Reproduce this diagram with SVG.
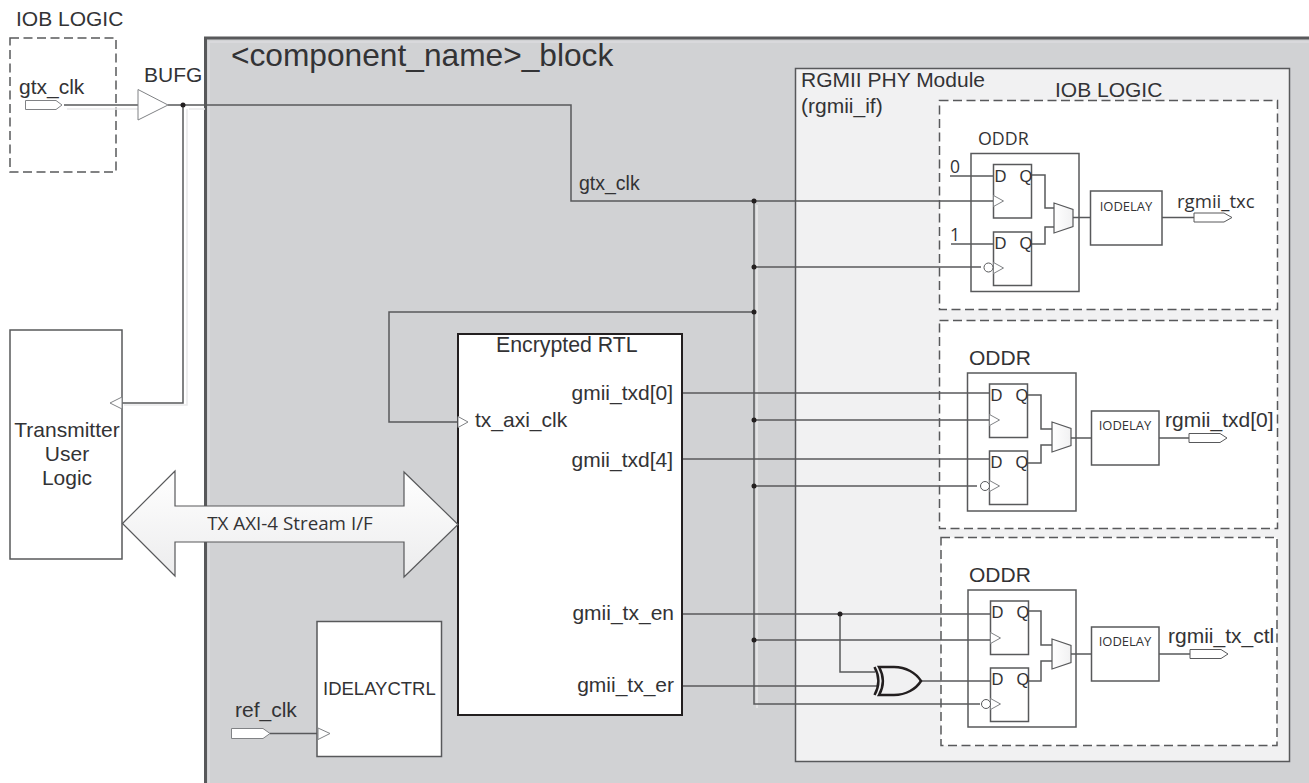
<svg xmlns="http://www.w3.org/2000/svg" width="1309" height="783" viewBox="0 0 1309 783">
<style>
text{font-family:"Liberation Sans",Arial,sans-serif;fill:#333335}
.c{font-family:"Open Sans","Noto Sans",sans-serif}
.w{fill:none;stroke:#58595b;stroke-width:1.5}
.s{fill:none;stroke:#e9e9ea;stroke-width:1.5}
.d{fill:#fff;stroke:#58595b;stroke-width:1.5;stroke-dasharray:9 4.500}
.b{fill:#fff;stroke:#58595b;stroke-width:1.5}
.t{fill:#fff;stroke:#808285;stroke-width:1}
.m{fill:url(#gm);stroke:#58595b;stroke-width:1.2}
.p{fill:#fff;stroke:#58595b;stroke-width:1}
.dot{fill:#231f20}
</style>
<defs>
<linearGradient id="g" x1="0" y1="0" x2="0" y2="1"><stop offset="0" stop-color="#fff"/><stop offset="1" stop-color="#ececed"/></linearGradient>
<linearGradient id="gm" x1="0" y1="0" x2="1" y2="0"><stop offset="0" stop-color="#fff"/><stop offset="1" stop-color="#f1f1f2"/></linearGradient>
<g id="ff">
<rect class="b" x="0" y="0" width="38" height="53.500"/>
<text x="1" y="17" font-size="16.500">D</text><text x="26" y="17" font-size="16.500">Q</text>
</g>
<polygon id="clkT" class="t" points="0,-5.500 10,0 0,5.500"/>
<path id="muxI" class="m" d="M0,0L19,6.500V23.500L0,30Z"/>
</defs>

<g id="block"><rect x="205.500" y="38" width="1110" height="760" fill="#d1d2d4" stroke="#58595b" stroke-width="3"/>
<path class="s" d="M209,790V42H1309" style="stroke:#dcdcde"/>
<text x="231" y="66" font-size="31.700">&lt;component_name&gt;_block</text></g>
<g id="rgmii-phy"><rect x="795.500" y="68.500" width="494" height="693" fill="#f1f1f2" stroke="#58595b" stroke-width="1.500"/>
<text x="801" y="87" font-size="21">RGMII PHY Module</text><text x="801" y="113" font-size="21">(rgmii_if)</text></g>

<g id="iob-top"><rect class="d" x="10" y="38" width="106" height="134" style="fill:none"/><text x="16" y="26" font-size="21">IOB LOGIC</text></g>
<g id="iob1"><rect class="d" x="939.500" y="100.500" width="338" height="209"/><text x="1055" y="97" font-size="21">IOB LOGIC</text></g>
<g id="iob2"><rect class="d" x="939.500" y="320.500" width="338" height="208"/></g>
<g id="iob3"><rect class="d" x="941" y="537.500" width="336" height="208"/></g>

<g id="oddr1"><rect class="b" x="971" y="153.500" width="108" height="138"/><text class="c" x="978" y="145" font-size="17.800">ODDR</text></g>
<g id="oddr2"><rect class="b" x="967.500" y="373" width="108.500" height="138"/><text x="969" y="365" font-size="21">ODDR</text></g>
<g id="oddr3"><rect class="b" x="968" y="590" width="108" height="137"/><text x="969" y="582" font-size="21">ODDR</text></g>

<g id="connectors">
<path class="s" d="M67,109H138M187,109V405H124M189,109H205"/>
<path class="s" d="M757,205V708"/>
<path class="w" d="M64,105H138M168,105H571V201H993"/>
<path class="w" d="M183,105V403H122"/>
<path class="w" d="M754,201V704H980"/>
<path class="w" d="M754,267H981"/>
<path class="w" d="M754,312H389V422H458"/>
<path class="w" d="M682,393H989"/>
<path class="w" d="M754,420H989"/>
<path class="w" d="M682,459H989"/>
<path class="w" d="M754,486H977"/>
<path class="w" d="M682,614H990"/>
<path class="w" d="M754,640H990"/>
<path class="w" d="M840,614V672H875"/>
<path class="w" d="M682,686H877"/>
<path class="w" d="M921,681H990"/>
<path class="w" d="M950,176H993M951,244H993"/>
<path class="w" d="M1031,175H1045V208H1054M1031,244H1045V227H1054"/>
<path class="w" d="M1073,217.500H1091M1162,217.500H1194"/>
<path class="w" d="M1027,395H1041V429H1052M1027,463H1041V445H1052"/>
<path class="w" d="M1070,438H1091M1159,438H1189"/>
<path class="w" d="M1028,611H1041V645H1052M1028,681H1041V661H1052"/>
<path class="w" d="M1070,654H1091M1159,654H1190"/>
<path class="w" d="M270,733.500H317"/>
<circle class="dot" cx="183" cy="105" r="2.500"/>
<circle class="dot" cx="754" cy="201" r="2.500"/>
<circle class="dot" cx="754" cy="267" r="2.500"/>
<circle class="dot" cx="754" cy="312" r="2.500"/>
<circle class="dot" cx="754" cy="420" r="2.500"/>
<circle class="dot" cx="754" cy="486" r="2.500"/>
<circle class="dot" cx="754" cy="640" r="2.500"/>
<circle class="dot" cx="840" cy="614" r="2.500"/>
</g>

<g id="gtx-port"><path class="t" d="M25.500,100.500H56L62,105L56,109.500H25.500Z"/><text x="19" y="94" font-size="21">gtx_clk</text></g>
<g id="bufg"><polygon class="t" points="138,89.500 168,105 138,120"/><text x="144" y="82" font-size="21">BUFG</text></g>
<text x="579" y="190" font-size="19.500">gtx_clk</text>

<g id="transmitter"><rect class="b" x="10" y="330" width="112" height="229"/>
<text x="67" y="437" font-size="21" text-anchor="middle">Transmitter</text>
<text x="67" y="461" font-size="21" text-anchor="middle">User</text>
<text x="67" y="485" font-size="21" text-anchor="middle">Logic</text>
<polygon class="t" points="122,397 110,403 122,409"/></g>

<g id="encrypted-rtl"><rect x="458" y="334" width="224" height="381" fill="#fff" stroke="#231f20" stroke-width="2"/>
<text x="496" y="352" font-size="21.300">Encrypted RTL</text>
<text x="673" y="400" font-size="21" text-anchor="end">gmii_txd[0]</text>
<text x="673" y="467" font-size="21" text-anchor="end">gmii_txd[4]</text>
<text x="674" y="620" font-size="21" text-anchor="end">gmii_tx_en</text>
<text x="674" y="692" font-size="21" text-anchor="end">gmii_tx_er</text>
<text x="475" y="427" font-size="21">tx_axi_clk</text>
<polygon class="t" points="458,416.500 468,422 458,427.500"/></g>

<g id="axi-arrow"><path d="M122.500,523.500L175,471V506H404V472L458,524.500L404,577V542H175V576Z" fill="url(#g)" stroke="#58595b" stroke-width="1.200"/>
<text class="c" x="290" y="530" font-size="18.800" text-anchor="middle">TX AXI-4 Stream I/F</text></g>

<g id="idelayctrl"><rect class="b" x="317" y="621.500" width="124.500" height="135"/>
<text x="323" y="695" font-size="18.500">IDELAYCTRL</text>
<polygon class="t" points="318,728 330,733.500 318,739.500"/></g>
<g id="ref-port"><path class="t" d="M231.500,728.500H263L270,733.500L263,738.500H231.500Z"/><text x="235" y="717" font-size="21">ref_clk</text></g>

<g id="ff1a"><use href="#ff" x="993.500" y="164.500"/><use href="#clkT" x="993.500" y="201"/></g>
<g id="ff1b"><use href="#ff" x="993.500" y="232"/><use href="#clkT" x="993.500" y="268"/><circle cx="988.500" cy="267.500" r="4.500" fill="#fff" stroke="#58595b"/></g>
<g id="ff2a"><use href="#ff" x="989.500" y="384"/><use href="#clkT" x="989.500" y="420"/></g>
<g id="ff2b"><use href="#ff" x="989.500" y="451"/><use href="#clkT" x="989.500" y="486"/><circle cx="985" cy="486" r="4.500" fill="#fff" stroke="#58595b"/></g>
<g id="ff3a"><use href="#ff" x="990.500" y="601"/><use href="#clkT" x="990.500" y="638"/></g>
<g id="ff3b"><use href="#ff" x="990.500" y="668"/><use href="#clkT" x="990.500" y="704"/><circle cx="986" cy="704" r="4.500" fill="#fff" stroke="#58595b"/></g>

<use id="mux1" href="#muxI" x="1054" y="203"/>
<use id="mux2" href="#muxI" x="1052" y="422"/>
<use id="mux3" href="#muxI" x="1052" y="639"/>

<g id="iodelay1"><rect class="b" x="1090.500" y="191" width="71.500" height="54"/><text class="c" x="1126" y="211" font-size="13" text-anchor="middle">IODELAY</text></g>
<g id="iodelay2"><rect class="b" x="1091.500" y="411" width="67.500" height="54"/><text class="c" x="1125" y="430" font-size="13" text-anchor="middle">IODELAY</text></g>
<g id="iodelay3"><rect class="b" x="1091.500" y="627" width="67.500" height="54"/><text class="c" x="1125" y="646" font-size="13" text-anchor="middle">IODELAY</text></g>

<g id="out1"><path class="p" d="M1194,213H1224L1232,217.500L1224,222H1194Z"/><text class="c" x="1177" y="208" font-size="18.600">rgmii_txc</text></g>
<g id="out2"><path class="p" d="M1189,433.500H1220L1227,438L1220,442.500H1189Z"/><text x="1165" y="427" font-size="21">rgmii_txd[0]</text></g>
<g id="out3"><path class="p" d="M1190,649.500H1221L1228,654L1221,658.500H1190Z"/><text x="1168" y="643" font-size="21">rgmii_tx_ctl</text></g>

<g id="const"><text class="c" x="950" y="173" font-size="17.500">0</text><text class="c" x="950" y="241" font-size="17.500">1</text></g>

<g id="xor"><path d="M879,667H894C906,667 916,673 921,681C916,689 906,695 894,695H879C884,686 884,676 879,667Z" fill="#f1f1f2" stroke="#231f20" stroke-width="2.500"/>
<path d="M874.500,667C879.500,676 879.500,686 874.500,695" fill="none" stroke="#231f20" stroke-width="2.500"/></g>
</svg>
